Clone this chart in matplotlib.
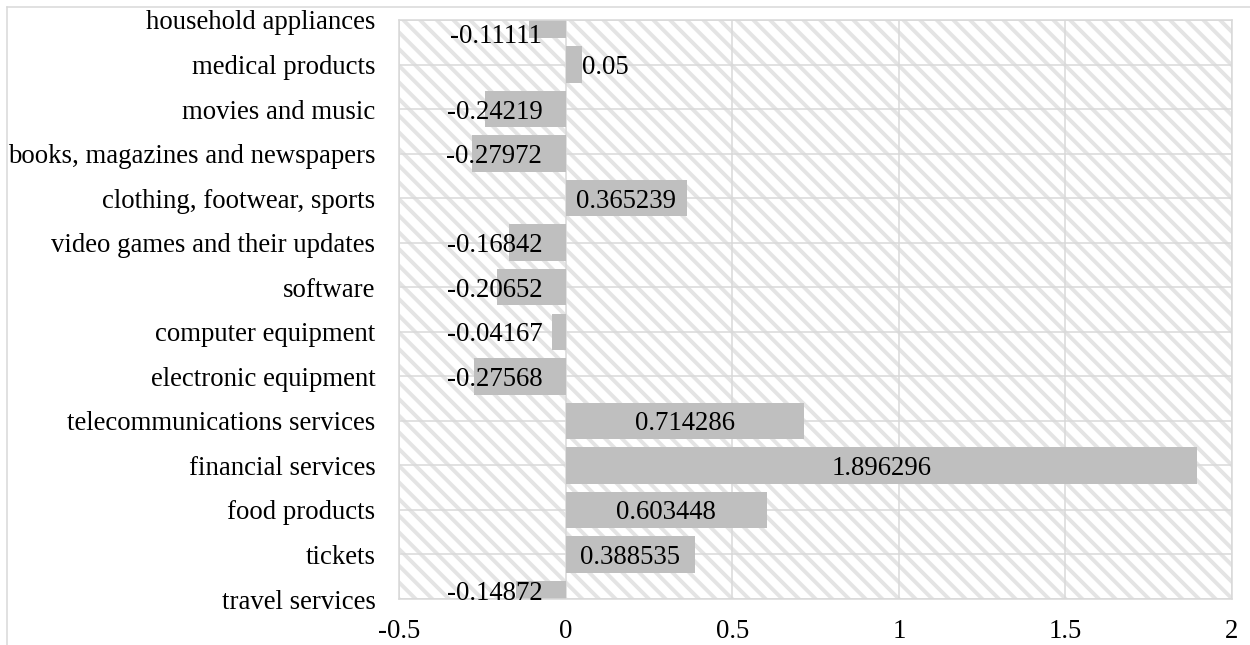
import matplotlib
matplotlib.use("Agg")
import matplotlib.pyplot as plt
from matplotlib.patches import Rectangle
from matplotlib.lines import Line2D
import numpy as np

categories = [
    "household appliances",
    "medical products",
    "movies and music",
    "books, magazines and newspapers",
    "clothing, footwear, sports",
    "video games and their updates",
    "software",
    "computer equipment",
    "electronic equipment",
    "telecommunications services",
    "financial services",
    "food products",
    "tickets",
    "travel services",
]
values = [
    -0.11111, 0.05, -0.24219, -0.27972, 0.365239, -0.16842, -0.20652,
    -0.04167, -0.27568, 0.714286, 1.896296, 0.603448, 0.388535, -0.14872,
]
value_text = [
    "-0.11111", "0.05", "-0.24219", "-0.27972", "0.365239", "-0.16842",
    "-0.20652", "-0.04167", "-0.27568", "0.714286", "1.896296", "0.603448",
    "0.388535", "-0.14872",
]
xticks = [-0.5, 0, 0.5, 1, 1.5, 2]
xtick_labels = ["-0.5", "0", "0.5", "1", "1.5", "2"]

plt.rcParams["font.family"] = ["Liberation Serif", "DejaVu Serif"]
plt.rcParams["hatch.linewidth"] = 2.8
plt.rcParams["hatch.color"] = "#E4E4E4"

grid_c = "#D9D9D9"
bar_c = "#BFBFBF"
fs = 19.3

fig = plt.figure(figsize=(12.5, 6.45), dpi=100)
ax = fig.add_axes([0.3192, 0.0713, 0.6664, 0.8977])

y = np.arange(len(categories))
ax.set_ylim(len(categories) - 1, 0)
ax.set_xlim(-0.5, 2)

# hatched plot area
ax.add_patch(Rectangle((0, 0), 1, 1, transform=ax.transAxes, facecolor="white",
                       edgecolor="#E4E4E4", hatch="\\\\", lw=0, zorder=0.2))

ax.barh(y, values, height=0.82, color=bar_c, zorder=2)

for i, (v, t) in enumerate(zip(values, value_text)):
    ty = np.clip(i, 0.3, len(categories) - 1.2)
    kw = dict(va="center_baseline", fontsize=fs, zorder=3)
    if v < 0:
        ax.text(-0.07, ty, t, ha="right", **kw)
    elif v < 0.15:
        ax.text(v, ty, t, ha="left", **kw)
    else:
        ax.text(v / 2, ty, t, ha="center", **kw)

ax.set_yticks(y)
ax.set_yticklabels(categories, fontsize=fs, va="center_baseline")
ax.set_xticks(xticks)
ax.set_xticklabels(xtick_labels, fontsize=fs)
ax.tick_params(axis="y", length=0, pad=17)
ax.tick_params(axis="x", length=0, pad=14.5)

ax.set_axisbelow(True)
ax.grid(True, color=grid_c, lw=1.1)
for s in ax.spines.values():
    s.set_color(grid_c)
    s.set_linewidth(1.1)

# outer chart border
fx, fy = 7 / 1250, 1 - 7 / 645
fig.add_artist(Line2D([fx, 1], [fy, fy], transform=fig.transFigure, color=grid_c, lw=1.1))
fig.add_artist(Line2D([fx, fx], [0, fy], transform=fig.transFigure, color=grid_c, lw=1.1))

fig.savefig("out.png", dpi=100)
